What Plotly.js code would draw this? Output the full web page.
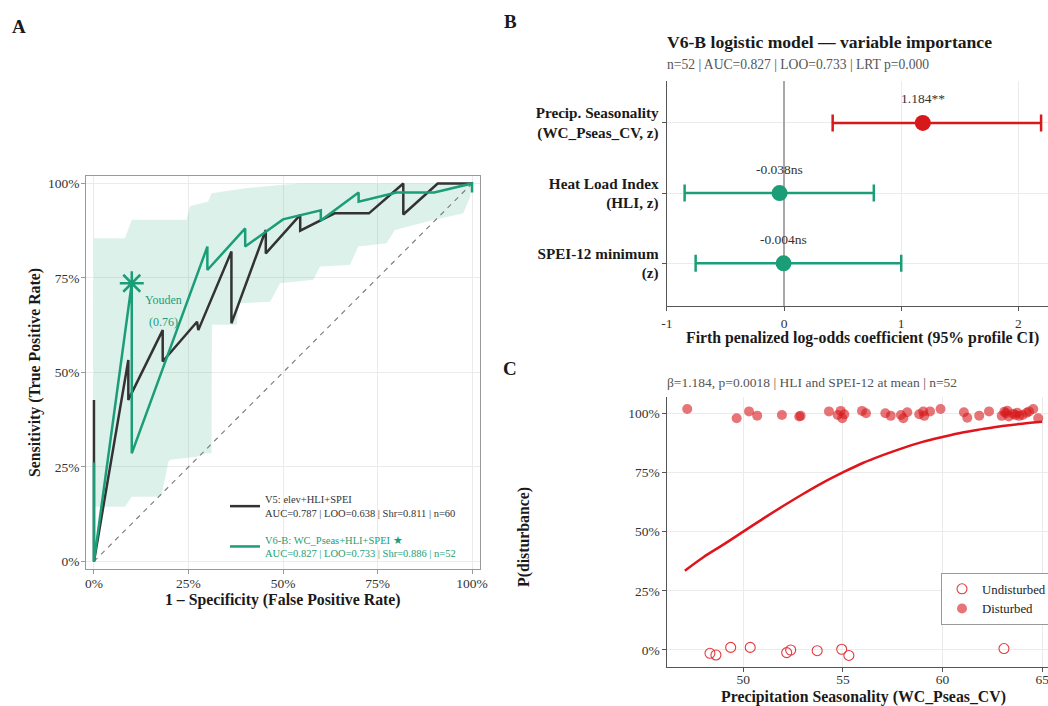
<!DOCTYPE html>
<html><head><meta charset="utf-8">
<script src="https://cdn.plot.ly/plotly-3.0.1.min.js"></script>
<style>html,body{margin:0;padding:0;background:#fff;overflow:hidden}#chart{width:1048px;height:706px}</style>
</head><body><div id="chart"></div>
<script>
// ---------- Panel A: ROC curves ----------
const pctTicks = [0, 0.25, 0.5, 0.75, 1];
const pctLabels = ['0%', '25%', '50%', '75%', '100%'];

const rocV5Fpr = [0, 0, 0, 0.0909, 0.0909, 0.104, 0.1818, 0.1818, 0.2727, 0.276, 0.3636, 0.3636, 0.4545, 0.4545, 0.5455, 0.5455, 0.6364, 0.7273, 0.8182, 0.8182, 0.9091, 1.0];
const rocV5Tpr = [0.427, 0.264, 0, 0.533, 0.427, 0.454, 0.612, 0.529, 0.634, 0.612, 0.820, 0.630, 0.877, 0.815, 0.917, 0.875, 0.921, 0.921, 1.0, 0.918, 1.0, 1.0];

const rocV6Fpr = [0, 0, 0.1, 0.1, 0.3, 0.3, 0.4, 0.4, 0.5, 0.6, 0.6, 0.7, 0.7, 0.8, 0.9, 1.0, 1.0];
const rocV6Tpr = [0.262, 0, 0.736, 0.286, 0.833, 0.771, 0.881, 0.833, 0.905, 0.929, 0.902, 0.976, 0.952, 0.976, 0.976, 1.0, 0.976];

const bandUpperFpr = [0, 0.082, 0.1, 0.245, 0.254, 0.302, 0.311, 0.40, 0.492, 0.545, 1.0];
const bandUpperTpr = [0.855, 0.855, 0.904, 0.904, 0.940, 0.952, 0.974, 0.987, 0.996, 1.0, 1.0];
const bandLowerFpr = [0, 0.082, 0.1, 0.175, 0.179, 0.197, 0.201, 0.272, 0.298, 0.311, 0.312, 0.378, 0.382, 0.466, 0.492, 0.580, 0.598, 0.677, 0.699, 0.774, 0.796, 0.898, 0.977, 0.995, 1.0];
const bandLowerTpr = [0.145, 0.145, 0.171, 0.171, 0.176, 0.264, 0.269, 0.277, 0.286, 0.286, 0.626, 0.626, 0.683, 0.687, 0.736, 0.745, 0.780, 0.784, 0.833, 0.842, 0.877, 0.903, 0.921, 0.965, 1.0];

const youdenFpr = 0.1, youdenTpr = 0.736, youdenLabel = ['Youden', '(0.76)'];
const legendV5 = ['V5: elev+HLI+SPEI', 'AUC=0.787 | LOO=0.638 | Shr=0.811 | n=60'];
const legendV6 = ['V6-B: WC_Pseas+HLI+SPEI ★', 'AUC=0.827 | LOO=0.733 | Shr=0.886 | n=52'];

// ---------- Panel B: coefficients ----------
const coefNames = ['SPEI-12 minimum<br>(z)', 'Heat Load Index<br>(HLI, z)', 'Precip. Seasonality<br>(WC_Pseas_CV, z)'];
const coefEst = [-0.004, -0.038, 1.184];
const coefLo = [-0.754, -0.848, 0.415];
const coefHi = [1.0, 0.766, 2.193];
const coefLabels = ['-0.004ns', '-0.038ns', '1.184**'];
const coefColors = ['#1b9e77', '#1b9e77', '#d7191c'];
const bTicks = [-1, 0, 1, 2];

// ---------- Panel C: partial effect ----------
const curveX = [47.07, 48, 49, 50, 51, 52, 53, 54, 55, 56, 57, 58, 59, 60, 61, 62, 63, 64, 65];
const curveP = [0.335, 0.392, 0.445, 0.500, 0.555, 0.608, 0.659, 0.707, 0.750, 0.790, 0.823, 0.853, 0.879, 0.900, 0.919, 0.933, 0.946, 0.956, 0.964];
const distX = [47.19, 49.67, 50.29, 50.70, 51.94, 52.81, 52.88, 54.30, 54.74, 54.89, 54.97, 55.07, 55.96, 56.16, 57.13, 57.40, 57.91, 58.03, 58.23, 58.83, 59.03, 59.08, 59.37, 59.90, 61.07, 61.24, 61.84, 62.33, 62.97, 63.10, 63.18, 63.25, 63.33, 63.55, 63.65, 63.75, 63.85, 64.02, 64.22, 64.34, 64.55, 64.80];
const distY = [1.018, 0.979, 1.008, 0.990, 0.993, 0.986, 0.989, 1.008, 0.993, 1.010, 0.979, 0.996, 1.010, 1.000, 1.000, 0.989, 0.993, 0.979, 1.004, 0.996, 1.007, 0.989, 1.008, 1.018, 1.004, 0.981, 0.990, 1.008, 0.989, 1.006, 1.000, 1.011, 0.986, 0.998, 0.993, 1.002, 0.989, 0.993, 1.002, 1.008, 1.018, 0.979];
const undistX = [48.33, 48.63, 49.37, 50.35, 52.18, 52.38, 53.71, 54.94, 55.30, 63.08];
const undistY = [-0.014, -0.021, 0.011, 0.011, -0.011, 0.0, -0.003, 0.003, -0.023, 0.006];
const cTicks = [50, 55, 60, 65];

// ---------- layout helpers ----------
const W = 1048, H = 706;
const fx = p => p / W, fy = p => 1 - p / H;
const FONT = 'Liberation Serif, Times New Roman, serif';
const GREEN = '#1b9e77', RED = '#d7191c', DARK = '#333333';
const tickFont = {family: FONT, size: 13.5, color: '#333'};
const TITLE = 15.8;

const traces = [];
traces.push({
  x: bandUpperFpr.concat(bandLowerFpr.slice().reverse()),
  y: bandUpperTpr.concat(bandLowerTpr.slice().reverse()),
  type: 'scatter', mode: 'lines', fill: 'toself', fillcolor: 'rgba(27,158,119,0.15)',
  line: {width: 0, color: 'rgba(0,0,0,0)'}, showlegend: false, hoverinfo: 'skip', xaxis: 'x', yaxis: 'y'
});
traces.push({
  x: [0, 1], y: [0, 1], type: 'scatter', mode: 'lines',
  line: {color: '#808080', width: 1.2, dash: '5px,5px'}, showlegend: false, hoverinfo: 'skip', xaxis: 'x', yaxis: 'y'
});
traces.push({
  x: rocV5Fpr, y: rocV5Tpr, type: 'scatter', mode: 'lines', line: {color: DARK, width: 2.5},
  name: legendV5.join('<br>'), legend: 'legend', legendgroup: 'v5', xaxis: 'x', yaxis: 'y'
});
traces.push({
  x: rocV6Fpr, y: rocV6Tpr, type: 'scatter', mode: 'lines', line: {color: GREEN, width: 2.5},
  name: legendV6.map(s => '<span style="color:' + GREEN + '">' + s + '</span>').join('<br>'),
  legend: 'legend', legendgroup: 'v6', xaxis: 'x', yaxis: 'y'
});
traces.push({
  x: [youdenFpr], y: [youdenTpr], type: 'scatter', mode: 'markers',
  marker: {symbol: 'asterisk-open', size: 20, color: GREEN, line: {color: GREEN, width: 2.5}},
  showlegend: false, hoverinfo: 'skip', xaxis: 'x', yaxis: 'y'
});
coefNames.forEach((n, i) => {
  traces.push({
    x: [coefEst[i]], y: [n], type: 'scatter', mode: 'markers',
    marker: {size: 16, color: coefColors[i]},
    error_x: {type: 'data', symmetric: false, array: [coefHi[i] - coefEst[i]], arrayminus: [coefEst[i] - coefLo[i]],
      color: coefColors[i], thickness: 2.5, width: 8.5},
    showlegend: false, xaxis: 'x2', yaxis: 'y2'
  });
});
traces.push({
  x: curveX, y: curveP, type: 'scatter', mode: 'lines', line: {color: '#e0141b', width: 2.5, shape: 'spline'},
  showlegend: false, xaxis: 'x3', yaxis: 'y3'
});
traces.push({
  x: undistX, y: undistY, type: 'scatter', mode: 'markers', name: 'Undisturbed', legend: 'legend2',
  marker: {symbol: 'circle-open', size: 10, color: '#e23a3f', line: {width: 1.1, color: '#e23a3f'}},
  xaxis: 'x3', yaxis: 'y3'
});
traces.push({
  x: distX, y: distY, type: 'scatter', mode: 'markers', name: 'Disturbed', legend: 'legend2',
  marker: {symbol: 'circle', size: 10, color: 'rgba(215,25,28,0.6)', line: {width: 0}},
  xaxis: 'x3', yaxis: 'y3'
});

const ann = [];
const txt = (text, x, y, size, opts) => ann.push(Object.assign({
  text: text, x: fx(x), y: fy(y), xref: 'paper', yref: 'paper', showarrow: false,
  font: {family: FONT, size: size, color: '#1a1a1a'}, xanchor: 'center', yanchor: 'middle'
}, opts || {}));

txt('<b>A</b>', 19, 27, 19);
txt('<b>B</b>', 510, 21, 19);
txt('<b>C</b>', 510, 368, 19);
txt('<b>1 – Specificity (False Positive Rate)</b>', 283, 600, TITLE);
txt('<b>Sensitivity (True Positive Rate)</b>', 35, 373, TITLE, {textangle: -90});
ann.push({text: youdenLabel[0], x: 0.183, y: 0.692, xref: 'x', yref: 'y', showarrow: false,
  font: {family: FONT, size: 12, color: GREEN}});
ann.push({text: youdenLabel[1], x: 0.183, y: 0.634, xref: 'x', yref: 'y', showarrow: false,
  font: {family: FONT, size: 12, color: GREEN}});
txt('<b>V6-B logistic model — variable importance</b>', 665, 42, 17.6, {xanchor: 'left'});
txt('n=52 | AUC=0.827 | LOO=0.733 | LRT p=0.000', 665, 64.5, 13.6, {xanchor: 'left', font: {family: FONT, size: 13.6, color: '#555'}});
coefNames.forEach((n, i) => ann.push({
  text: coefLabels[i], x: coefEst[i], y: n, xref: 'x2', yref: 'y2', showarrow: false, yshift: 24,
  font: {family: FONT, size: 13.5, color: '#333'}
}));
txt('<b>Firth penalized log-odds coefficient (95% profile CI)</b>', 862.6, 338, TITLE);
txt('β=1.184, p=0.0018 | HLI and SPEI-12 at mean | n=52', 665, 382, 13.5, {xanchor: 'left', font: {family: FONT, size: 13.5, color: '#555'}});
txt('<b>P(disturbance)</b>', 524, 537, TITLE, {textangle: -90});
txt('<b>Precipitation Seasonality (WC_Pseas_CV)</b>', 863, 697, TITLE);

const axCommon = {showgrid: true, gridcolor: '#ebebeb', gridwidth: 1, zeroline: false, showline: true,
  ticks: 'outside', ticklen: 4, tickfont: tickFont};

const layout = {
  width: W, height: H, margin: {l: 0, r: 0, t: 0, b: 0, autoexpand: false},
  paper_bgcolor: '#fff', plot_bgcolor: '#fff',
  font: {family: FONT, size: 13, color: '#333'},
  xaxis: Object.assign({}, axCommon, {domain: [fx(86.4), fx(479.6)], range: [-0.02, 1.02], anchor: 'y', tickvals: pctTicks, ticktext: pctLabels,
    mirror: true, linecolor: '#999', linewidth: 1.3, tickcolor: '#999', ticklabelstandoff: -3}),
  yaxis: Object.assign({}, axCommon, {domain: [fy(569), fy(175.9)], range: [-0.02, 1.02], anchor: 'x', tickvals: pctTicks, ticktext: pctLabels,
    mirror: true, linecolor: '#999', linewidth: 1.3, tickcolor: '#999', ticklabelstandoff: -1}),
  xaxis2: Object.assign({}, axCommon, {domain: [fx(666.8), 1], range: [-1, 2.252], anchor: 'y2', tickvals: bTicks, ticktext: bTicks.map(String),
    zeroline: true, zerolinecolor: '#a8a8a8', zerolinewidth: 1.6, linecolor: '#555', linewidth: 1.2, tickcolor: '#555', ticklabelstandoff: 0}),
  yaxis2: Object.assign({}, axCommon, {domain: [fy(306.2), fy(81.1)], type: 'category', categoryorder: 'array', categoryarray: coefNames,
    range: [-0.611, 2.595], anchor: 'x2', tickvals: coefNames, ticktext: coefNames.map(s => '<b>' + s + '</b>'),
    linecolor: '#555', linewidth: 1.2, tickcolor: '#555', ticklabelstandoff: 0, tickfont: {family: FONT, size: 15.2, color: '#1a1a1a'}}),
  xaxis3: Object.assign({}, axCommon, {domain: [fx(666.7), 1], range: [46.16, 65.29], anchor: 'y3', tickvals: cTicks, ticktext: cTicks.map(String),
    linecolor: '#555', linewidth: 1.2, tickcolor: '#555', ticklabelstandoff: -4, ticklabeloverflow: 'allow'}),
  yaxis3: Object.assign({}, axCommon, {domain: [fy(666.7), fy(396.7)], range: [-0.0706, 1.070], anchor: 'x3', tickvals: pctTicks, ticktext: pctLabels,
    linecolor: '#555', linewidth: 1.2, tickcolor: '#555', ticklabelstandoff: -1}),
  legend: {x: fx(225), y: fy(486), xanchor: 'left', yanchor: 'top', bgcolor: 'rgba(0,0,0,0)',
    font: {family: FONT, size: 10.5, color: '#333'}, tracegroupgap: 10, itemwidth: 30},
  legend2: {x: fx(941), y: fy(573), xanchor: 'left', yanchor: 'top', bgcolor: '#fff', bordercolor: '#999', borderwidth: 1,
    font: {family: FONT, size: 12.8, color: '#222'}},
  annotations: ann
};

Plotly.newPlot('chart', traces, layout, {displayModeBar: false, staticPlot: true});
</script></body></html>
